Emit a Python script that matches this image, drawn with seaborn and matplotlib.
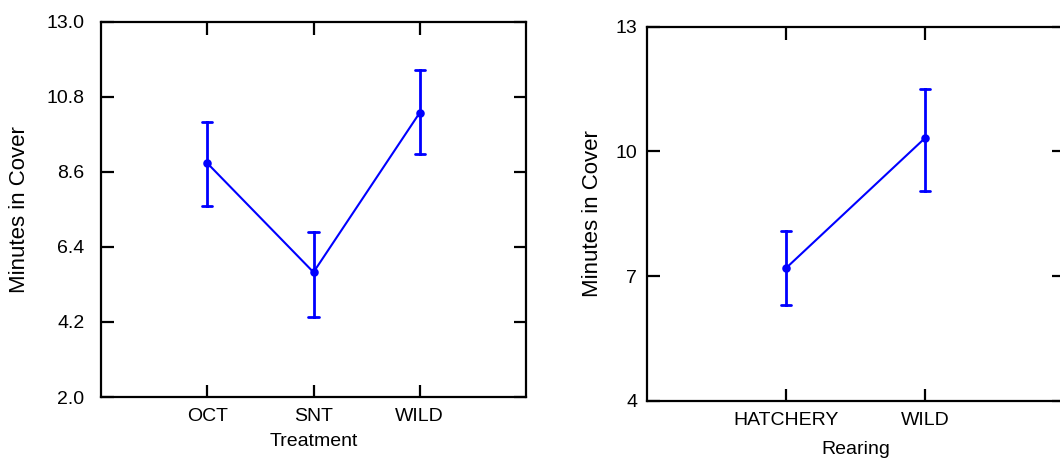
import matplotlib
matplotlib.use("Agg")
import matplotlib.pyplot as plt
import seaborn as sns
import pandas as pd
import numpy as np

# Panel 1: Treatment
treat_cats = ["OCT", "SNT", "WILD"]
treat_mean = [8.86, 5.66, 10.34]
treat_lo = [7.60, 4.36, 9.13]
treat_hi = [10.07, 6.83, 11.60]
treat_yticks = [2.0, 4.2, 6.4, 8.6, 10.8, 13.0]

# Panel 2: Rearing
rear_cats = ["HATCHERY", "WILD"]
rear_mean = [7.19, 10.32]
rear_lo = [6.31, 9.04]
rear_hi = [8.08, 11.49]
rear_yticks = [4, 7, 10, 13]

sns.set_theme(style="ticks")
plt.rcParams['font.family'] = ['Liberation Sans', 'DejaVu Sans']
plt.rcParams['text.color'] = 'black'
plt.rcParams['axes.labelcolor'] = 'black'
plt.rcParams['xtick.color'] = 'black'
plt.rcParams['ytick.color'] = 'black'


def long_df(cats, lo, mid, hi, xname):
    rows = []
    for c, a, m, b in zip(cats, lo, mid, hi):
        for v in (a, m, b):
            rows.append({xname: c, "Minutes in Cover": v})
    return pd.DataFrame(rows)


fig = plt.figure(figsize=(10.6, 4.59), dpi=100)
W, H = 1060, 459
ax1 = fig.add_axes([101 / W, (H - 397) / H, 425 / W, 375 / H])
ax2 = fig.add_axes([647 / W, (H - 400.7) / H, 417 / W, 374 / H])

blue = "#0000FF"
rng = lambda x: (np.min(x), np.max(x))

df1 = long_df(treat_cats, treat_lo, treat_mean, treat_hi, "Treatment")
sns.pointplot(data=df1, x="Treatment", y="Minutes in Cover", order=treat_cats,
              estimator="median", errorbar=rng, color=blue, markers="o",
              markersize=5, linewidth=1.5, capsize=0.095,
              err_kws={"linewidth": 2.0}, ax=ax1)

df2 = long_df(rear_cats, rear_lo, rear_mean, rear_hi, "Rearing")
sns.pointplot(data=df2, x="Rearing", y="Minutes in Cover", order=rear_cats,
              estimator="median", errorbar=rng, color=blue, markers="o",
              markersize=5, linewidth=1.5, capsize=0.075,
              err_kws={"linewidth": 2.0}, ax=ax2)

ax1.set_xlim(-1, 3)
ax1.set_ylim(2, 13)
ax1.set_yticks(treat_yticks)
ax1.set_yticklabels([f"{v:.1f}" for v in treat_yticks])

ax2.set_xlim(-1, 2)
ax2.set_ylim(4, 13)
ax2.set_yticks(rear_yticks)
ax2.set_yticklabels([str(v) for v in rear_yticks])

for ax, ypad in ((ax1, 12), (ax2, 7)):
    for s in ax.spines.values():
        s.set_visible(True)
        s.set_linewidth(1.6)
        s.set_color("black")
    ax.tick_params(axis="both", which="major", direction="in", length=9,
                   width=1.6, color="black", labelsize=14,
                   top=True, right=True, labelcolor="black")
    ax.tick_params(axis="y", pad=ypad)
    ax.tick_params(axis="x", pad=8)
    ax.grid(False)

ax1.set_xlabel("Treatment", labelpad=6, fontsize=14)
ax1.set_ylabel("Minutes in Cover", labelpad=12, fontsize=16)
ax2.set_xlabel("Rearing", labelpad=9, fontsize=14)
ax2.set_ylabel("Minutes in Cover", labelpad=9, fontsize=16)

fig.savefig("out.png", dpi=100)
